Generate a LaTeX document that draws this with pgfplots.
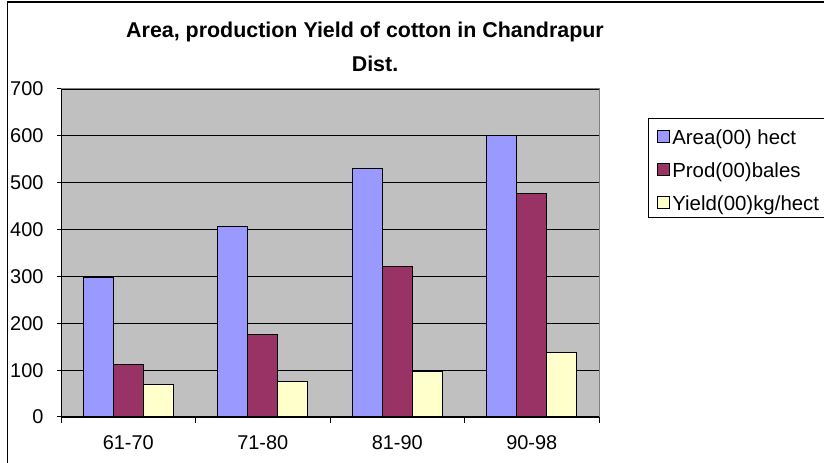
\documentclass[border=0pt]{standalone}
\usepackage{pgfplots}
\pgfplotsset{compat=1.18}
\usepackage{fontspec}
\setmainfont{Liberation Sans}
\definecolor{areac}{HTML}{9999FF}
\definecolor{prodc}{HTML}{993366}
\definecolor{yieldc}{HTML}{FFFFCC}
\definecolor{plotbg}{HTML}{C0C0C0}
\definecolor{plotedge}{HTML}{808080}
\begin{document}
\begin{tikzpicture}
\draw[black, line width=1.5bp] (7.5bp,-20bp) -- (7.5bp,461bp) -- (840bp,461bp);
\node[font=\bfseries\fontsize{21.5}{24}\selectfont] at (365bp,431bp) {Area, production Yield of cotton in Chandrapur};
\node[font=\bfseries\fontsize{21.5}{24}\selectfont] at (375bp,399bp) {Dist.};
\begin{axis}[
  at={(61bp,46bp)}, anchor=south west, scale only axis,
  width=538bp, height=328bp,
  ybar=0pt, bar width=30bp,
  xmin=-0.5, xmax=3.5, ymin=0, ymax=700,
  ytick={0,100,...,700},
  xtick={0,1,2,3}, xticklabels={61-70,71-80,81-90,90-98},
  minor xtick={-0.5,0.5,1.5,2.5,3.5},
  axis lines=left,
  axis line style={-, black, line width=1bp},
  axis background/.style={fill=plotbg, draw=plotedge, line width=1bp},
  ymajorgrids, major grid style={black, line width=0.8bp},
  tick align=outside,
  major tick length=4bp, minor tick length=6bp,
  major x tick style={draw=none},
  tick style={black, line width=1bp},
  /pgf/number format/assume math mode=true,
  ticklabel style={font=\fontsize{20}{22}\selectfont},
  yticklabel style={xshift=-10bp},
  xticklabel style={yshift=-11bp},
  legend style={at={(1.0911,0.9107)}, anchor=north west, draw=black, line width=1bp, fill=white,
    font=\fontsize{20.5}{22}\selectfont, row sep=14bp, inner xsep=8bp, inner ysep=7bp,
    nodes={inner sep=0pt, text height=19bp, text depth=0bp}, column sep=3bp},
  legend cell align=left,
  legend image code/.code={\draw[#1, draw=black, line width=0.8bp] (0bp,-7bp) rectangle (12bp,5bp);},
]
\addplot[fill=areac, draw=black, line width=1bp] coordinates {(0,297) (1,407) (2,530) (3,601)};
\addplot[fill=prodc, draw=black, line width=1bp] coordinates {(0,113) (1,177) (2,321) (3,478)};
\addplot[fill=yieldc, draw=black, line width=1bp] coordinates {(0,69) (1,75) (2,98) (3,137)};
\legend{Area(00) hect, Prod(00)bales, Yield(00)kg/hect}
\end{axis}
\pgfresetboundingbox
\path (0,0) rectangle (824bp,463bp);
\end{tikzpicture}
\end{document}
